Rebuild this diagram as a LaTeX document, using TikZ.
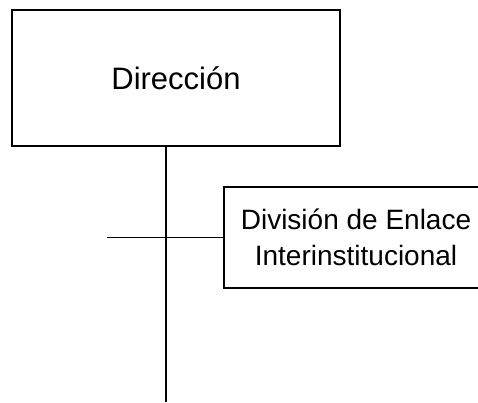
\documentclass[tikz,border=0pt]{standalone}
\usepackage{fontspec}
\setmainfont{Liberation Sans}

\tikzset{unit box/.style={
    	draw, line width=1.5pt, inner sep=0pt, align=center
  	},
  	org line/.style={black, line width=1.3pt}
}

\begin{document}
\begin{tikzpicture}[x=1pt, y=-1pt]
		\clip (0,0) rectangle (478,402);
		\node [unit box, minimum width=328pt, minimum height=136pt,
			font=\fontsize{31pt}{36pt}\selectfont] (direccion) at (176,78) {Dirección};
		\node [unit box, minimum width=264pt, minimum height=101pt,
			font=\fontsize{28pt}{36pt}\selectfont] (enlace) at (356,237.5)
			{División de Enlace\\Interinstitucional};
		% trunk down from the director, branch to the division
		\coordinate (trunk) at (166,402);
		\coordinate (branch) at (107,237.5);
		\draw [org line] (direccion.south -| trunk) -- (trunk);
		\draw [org line] (branch) -- (enlace.west);
	\end{tikzpicture}
\end{document}
